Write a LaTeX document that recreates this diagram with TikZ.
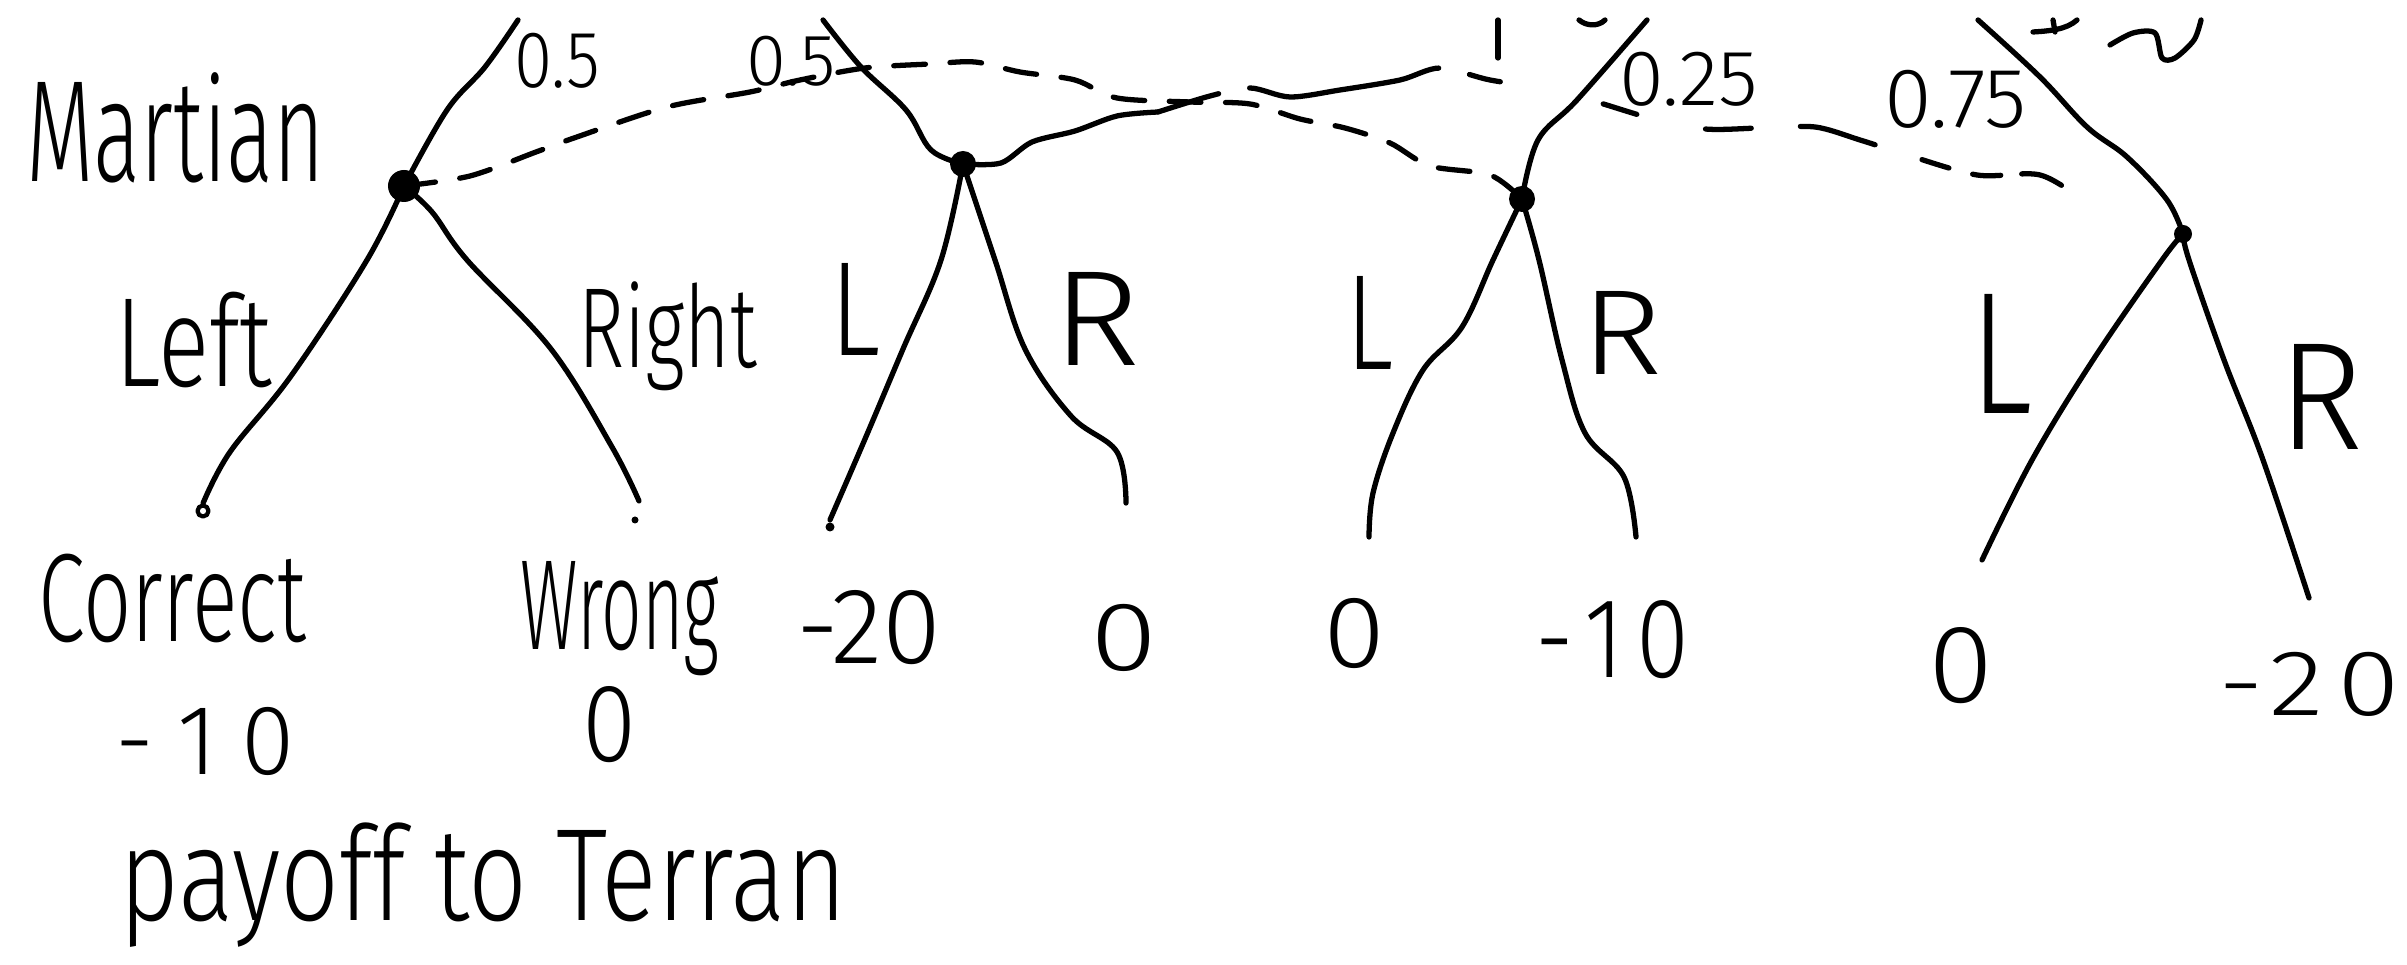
\documentclass[tikz,border=0pt]{standalone}
\usepackage{fontspec}
\IfFontExistsTF{Fira Sans Light}{\setmainfont{Fira Sans Light}[Numbers=Lining]}{\setmainfont{Fira Sans}[Numbers=Lining]}
\usepackage{graphicx}
\newcommand\hw[3]{\resizebox{#1}{#2}{\raisebox{0pt}[\fontcharht\font`H][0pt]{#3}}}
\begin{document}
\begin{tikzpicture}[x=0.01cm, y=-0.01cm, line width=1.5pt, line cap=round, line join=round,
  lab/.style={inner sep=0pt, outer sep=0pt, anchor=base west},
  blob/.style={circle, fill=black, inner sep=0pt},
  infoset/.style={dash pattern=on 9pt off 7pt},
  infolong/.style={dash pattern=on 18pt off 9pt on 55pt off 9pt on 9pt off 30pt on 10pt off 20pt on 13pt off 14pt on 22pt off 14pt on 8pt off 7pt on 8pt off 6pt on 12pt off 40pt}]
\fill[white] (0,0) rectangle (2407,965);
\useasboundingbox (0,0) rectangle (2407,965);

% decision nodes
\node[blob, minimum size=3.2mm] (A) at (404,186) {};
\node[blob, minimum size=2.6mm] (B) at (963,164) {};
\node[blob, minimum size=2.6mm] (C) at (1522,199) {};
\node[blob, minimum size=1.8mm] (D) at (2183,234) {};

% clipped upper ends
\coordinate (At) at (518,20);
\coordinate (Bt) at (823,20);
\coordinate (Ct) at (1647,20);
\coordinate (Dt) at (1978,20);

% leaves
\node[circle, draw, line width=1.2pt, minimum size=1.1mm, inner sep=0pt] (lA) at (203,511) {};
\node[blob, minimum size=0.7mm] (rA) at (635,520) {};
\coordinate (rAe) at (639,501);
\node[blob, minimum size=0.9mm] (lB) at (830,527) {};
\coordinate (rB) at (1126,503);
\coordinate (lC) at (1369,537);
\coordinate (rC) at (1636,537);
\coordinate (lD) at (1982,560);
\coordinate (rD) at (2309,598);

% branches up
\draw plot[smooth, tension=0.6] coordinates {(A) (447,110) (485,67) (At)};
\draw plot[smooth, tension=0.6] coordinates {(B) (931,150) (906,110) (861,67) (Bt)};
\draw plot[smooth, tension=0.6] coordinates {(C) (1538,140) (1577,100) (Ct)};
\draw plot[smooth, tension=0.6] coordinates {(D) (2167,200) (2127,157) (2087,127) (2040,77) (Dt)};

% branches down
\draw plot[smooth, tension=0.6] coordinates {(A) (367,260) (291,376) (230,452) (lA.north)};
\draw plot[smooth, tension=0.6] coordinates {(A) (432,212) (467,260) (551,349) (612,447) (rAe)};
\draw plot[smooth, tension=0.6] coordinates {(B) (941,260) (903,349) (865,439) (lB.north)};
\draw plot[smooth, tension=0.6] coordinates {(B) (995,260) (1025,349) (1071,416) (1117,452) (rB)};
\draw plot[smooth, tension=0.6] coordinates {(C) (1493,260) (1462,327) (1423,370) (1393,433) (1373,493) (lC)};
\draw plot[smooth, tension=0.6] coordinates {(C) (1539,260) (1562,360) (1585,433) (1624,477) (rC)};
\draw plot[smooth, tension=0.6] coordinates {(D) (2162,260) (2093,360) (2032,460) (lD)};
\draw plot[smooth, tension=0.6] coordinates {(D) (2189,260) (2224,360) (2263,460) (rD)};

% information sets
\draw[infoset] plot[smooth, tension=0.5] coordinates {(A) (470,176) (536,152) (574,138) (667,107) (750,92) (800,80) (865,68) (930,64) (975,62) (1020,72) (1075,80) (1117,98) (1190,102) (1250,104) (1300,119) (1345,128) (1390,143) (1430,166) (1490,175) (C)};
\draw plot[smooth, tension=0.5] coordinates {(B) (1001,163) (1032,142) (1075,131) (1117,116) (1158,112)};
\draw[infolong] plot[smooth, tension=0.5] coordinates {(1158,112) (1210,96) (1250,88) (1290,97) (1340,90) (1400,80) (1440,68) (1490,80) (1553,90) (1600,103) (1650,118) (1705,129) (1760,128) (1815,127) (1860,140) (1901,153) (1977,175) (2040,175) (2090,203) (2140,222) (D)};

% clipped fragments of writing at the top edge
\draw (1498,20) -- (1498,58);
\draw (1579,20) .. controls (1586,26) and (1598,27) .. (1605,20);
\draw (2033,32) .. controls (2048,31) and (2066,30) .. (2077,20);
\draw (2053,20) -- (2055,32);
\draw plot[smooth, tension=0.5] coordinates {(2110,45) (2133,33) (2155,33) (2162,58) (2175,58) (2194,40) (2201,20)};

% labels
\node[lab] (tMartian) at (26,182) {\hw{29.9mm}{9.9mm}{Martian}};
\node[lab] (p05a) at (514,88) {\hw{8.6mm}{5.5mm}{0.5}};
\node[lab] (p05b) at (746,86) {\hw{9.0mm}{5.0mm}{0.5}};
\node[lab] (p025) at (1619,106) {\hw{13.9mm}{5.4mm}{0.25}};
\node[lab] (p075) at (1884,128) {\hw{14.3mm}{5.8mm}{0.75}};
\node[lab] (tLeft) at (115,387) {\hw{15.7mm}{8.7mm}{Left}};
\node[lab] (tRight) at (578,368) {\hw{17.9mm}{7.8mm}{Right}};
\node[lab] (tLB) at (830,356) {\hw{5.0mm}{9.2mm}{L}};
\node[lab] (tRB) at (1052,366) {\hw{8.8mm}{9.3mm}{R}};
\node[lab] (tLC) at (1346,370) {\hw{4.7mm}{9.3mm}{L}};
\node[lab] (tRC) at (1581,375) {\hw{8.1mm}{8.3mm}{R}};
\node[lab] (tLD) at (1970,414) {\hw{6.2mm}{11.9mm}{L}};
\node[lab] (tRD) at (2278,450) {\hw{8.5mm}{10.5mm}{R}};
\node[lab] (tCorrect) at (38,642) {\hw{26.8mm}{8.6mm}{Correct}};
\node[lab] (tWrong) at (520,650) {\hw{19.9mm}{8.8mm}{Wrong}};
\node[lab] (vA1) at (115,775) {\hw{18.0mm}{6.8mm}{-\kern.25em1\kern.25em0}};
\node[lab] (vA2) at (582,762) {\hw{5.4mm}{7.6mm}{0}};
\node[lab] (vB1) at (796,664) {\hw{14.5mm}{7.4mm}{-20}};
\node[lab] (vB2) at (1090,671) {\hw{6.7mm}{6.7mm}{0}};
\node[lab] (vC1) at (1323,668) {\hw{6.2mm}{7.0mm}{0}};
\node[lab] (vC2) at (1535,678) {\hw{15.4mm}{7.8mm}{-\kern.12em1\kern.12em0}};
\node[lab] (vD1) at (1928,703) {\hw{6.5mm}{7.6mm}{0}};
\node[lab] (vD2) at (2218,716) {\hw{18.2mm}{6.4mm}{-\kern.05em2\kern.12em0}};
\node[lab] (tPayoff) at (119,921) {\hw{72.7mm}{9.0mm}{payoff to Terran}};
\end{tikzpicture}
\end{document}
